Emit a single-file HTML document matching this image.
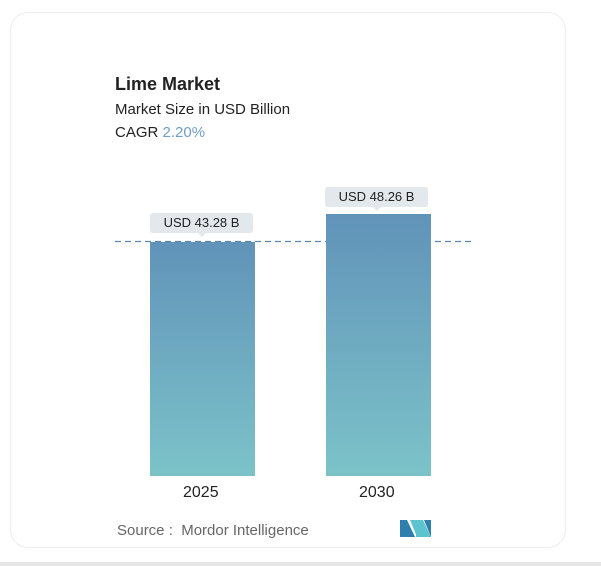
<!DOCTYPE html>
<html><head><style>
body{margin:0;width:601px;height:566px;background:#fff;font-family:"Liberation Sans",sans-serif;position:relative;overflow:hidden}
.card{position:absolute;left:10px;top:12px;width:554px;height:534px;border:1px solid #eee;border-radius:18px;background:#fff}
.band{position:absolute;left:0;top:562px;width:601px;height:4px;background:#e6e6e6}
.t{position:absolute;color:#222}
.bar{position:absolute;background:linear-gradient(#6193b9,#7cc3c9)}
.lbl{position:absolute;background:#e2e8ec;border-radius:3px;font-size:13px;text-align:center;line-height:20px;color:#222}
.lbl:after{content:"";position:absolute;left:50%;bottom:-4px;margin-left:-4px;border:4px solid transparent;border-bottom:0;border-top-color:#e2e8ec}
</style></head><body>
<div class="card"></div>
<div class="band"></div>
<div class="t" style="left:115px;top:74px;font-size:18px;font-weight:bold">Lime Market</div>
<div class="t" style="left:115px;top:101px;font-size:15px">Market Size in USD Billion</div>
<div class="t" style="left:115px;top:124px;font-size:15px">CAGR <span style="color:#6f9fc8">2.20%</span></div>
<svg style="position:absolute;left:115px;top:240px" width="356" height="3"><line x1="0" y1="1.5" x2="356" y2="1.5" stroke="#5a86ad" stroke-width="1.2" stroke-dasharray="6,4"/></svg>
<div class="bar" style="left:150px;top:242px;width:105px;height:234px"></div>
<div class="bar" style="left:326px;top:214px;width:105px;height:262px"></div>
<div class="lbl" style="left:150px;top:213px;width:103px">USD 43.28 B</div>
<div class="lbl" style="left:325px;top:187px;width:103px">USD 48.26 B</div>
<div class="t" style="left:183px;top:484px;font-size:16px">2025</div>
<div class="t" style="left:359px;top:484px;font-size:16px">2030</div>
<div class="t" style="left:117px;top:522px;font-size:15px;color:#666">Source :&nbsp; Mordor Intelligence</div>
<svg style="position:absolute;left:400px;top:520px" width="31" height="17">
<polygon points="0,0 7,0 15,17 0,17" fill="#2f7fae"/><polygon points="10,0 17,0 17,17" fill="#5cc3cf"/>
<polygon points="16,0 23,0 31,17 16,17" fill="#5cc3cf"/><polygon points="24,0 31,0 31,17" fill="#2f7fae"/>
</svg>
</body></html>
